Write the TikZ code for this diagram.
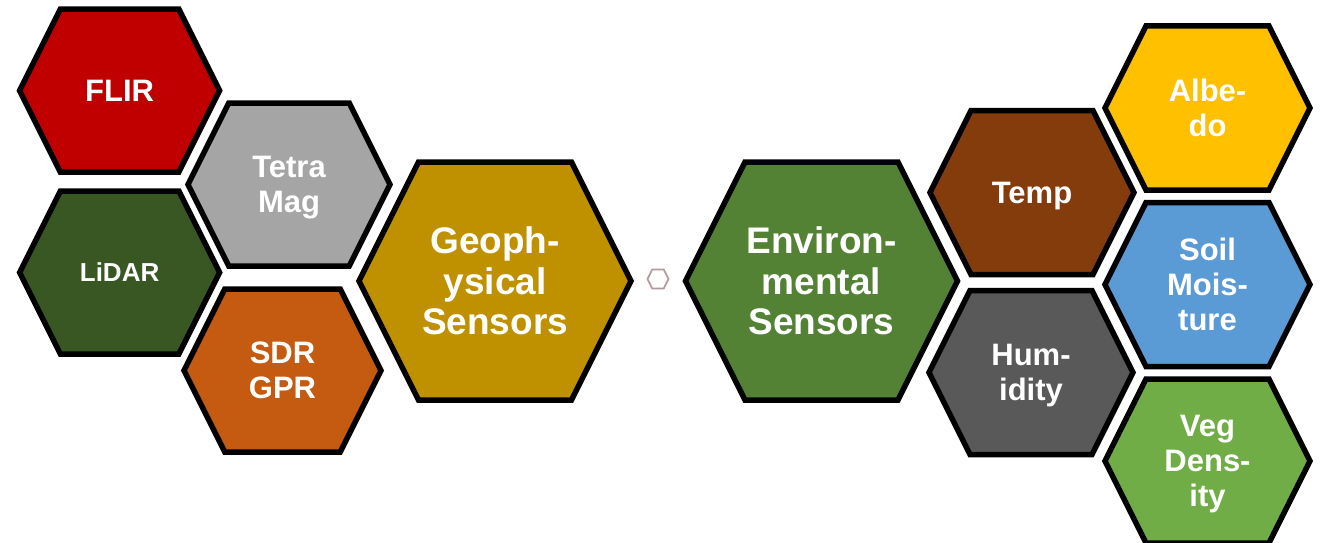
\documentclass[tikz,border=0pt]{standalone}
\usepackage{fontspec}
\setmainfont{Liberation Sans}
\definecolor{cFlir}{HTML}{C00000}
\definecolor{cTetra}{HTML}{A5A5A5}
\definecolor{cLidar}{HTML}{385723}
\definecolor{cSdr}{HTML}{C55A11}
\definecolor{cGeo}{HTML}{BF9000}
\definecolor{cEnv}{HTML}{548235}
\definecolor{cTemp}{HTML}{843C0C}
\definecolor{cAlbedo}{HTML}{FFC000}
\definecolor{cSoil}{HTML}{5B9BD5}
\definecolor{cHum}{HTML}{595959}
\definecolor{cVeg}{HTML}{70AD47}
\definecolor{cTiny}{HTML}{B09A9A}
\tikzset{
  hexline/.style={draw=black, line width=5.5pt, line join=miter},
  hexlabel/.style={text=white, align=center, inner sep=0pt, text depth=0pt,
    font=\bfseries\fontsize{31}{35}\selectfont},
  biglabel/.style={hexlabel, font=\bfseries\fontsize{37}{40.5}\selectfont},
  smalllabel/.style={hexlabel, font=\bfseries\fontsize{26}{30}\selectfont},
}
% \hexcell[label style]{name}{cx}{cy}{half width}{half height}{fill}{text}
\newcommand{\hexcell}[8][hexlabel]{%
  \draw[hexline, fill=#7]
    ({#3-#5},{#4}) -- ({#3-#5+0.5*#6},{#4-#6}) -- ({#3+#5-0.5*#6},{#4-#6})
    -- ({#3+#5},{#4}) -- ({#3+#5-0.5*#6},{#4+#6}) -- ({#3-#5+0.5*#6},{#4+#6}) -- cycle;
  \node[#1] (#2) at (#3,#4) {#8};
}
\begin{document}
\begin{tikzpicture}[x=1pt, y=-1pt]
\useasboundingbox (0,0) rectangle (1327,543);
% geophysical cluster
\hexcell{flir}{119.6}{90.6}{100}{81.5}{cFlir}{FLIR}
\hexcell{tetra}{289}{184.5}{101}{81.5}{cTetra}{Tetra\\Mag}
\hexcell[smalllabel]{lidar}{119.6}{272.5}{100}{81.5}{cLidar}{LiDAR}
\hexcell{sdr}{282.5}{370.5}{98.5}{81.5}{cSdr}{SDR\\GPR}
\hexcell[biglabel]{geo}{495}{281}{136}{119}{cGeo}{Geoph-\\ysical\\Sensors}
% small separator hexagon
\draw[draw=cTiny, line width=1.6pt, fill=white]
  (647.5,279) -- (652.25,269.5) -- (663.75,269.5) -- (668.5,279)
  -- (663.75,288.5) -- (652.25,288.5) -- cycle;
\coordinate (sep) at (658,279);
% environmental cluster
\hexcell[biglabel]{env}{821.5}{281}{136}{119}{cEnv}{Environ-\\mental\\Sensors}
\hexcell{temp}{1032}{192.5}{102}{82}{cTemp}{Temp}
\hexcell{albedo}{1207.5}{108}{102.5}{82}{cAlbedo}{Albe-\\do}
\hexcell{soil}{1207.5}{284.5}{102.5}{82}{cSoil}{Soil\\Mois-\\ture}
\hexcell{hum}{1031}{372.5}{102}{82}{cHum}{Hum-\\idity}
\hexcell{veg}{1207.5}{461}{102.5}{82}{cVeg}{Veg\\Dens-\\ity}
\end{tikzpicture}
\end{document}
